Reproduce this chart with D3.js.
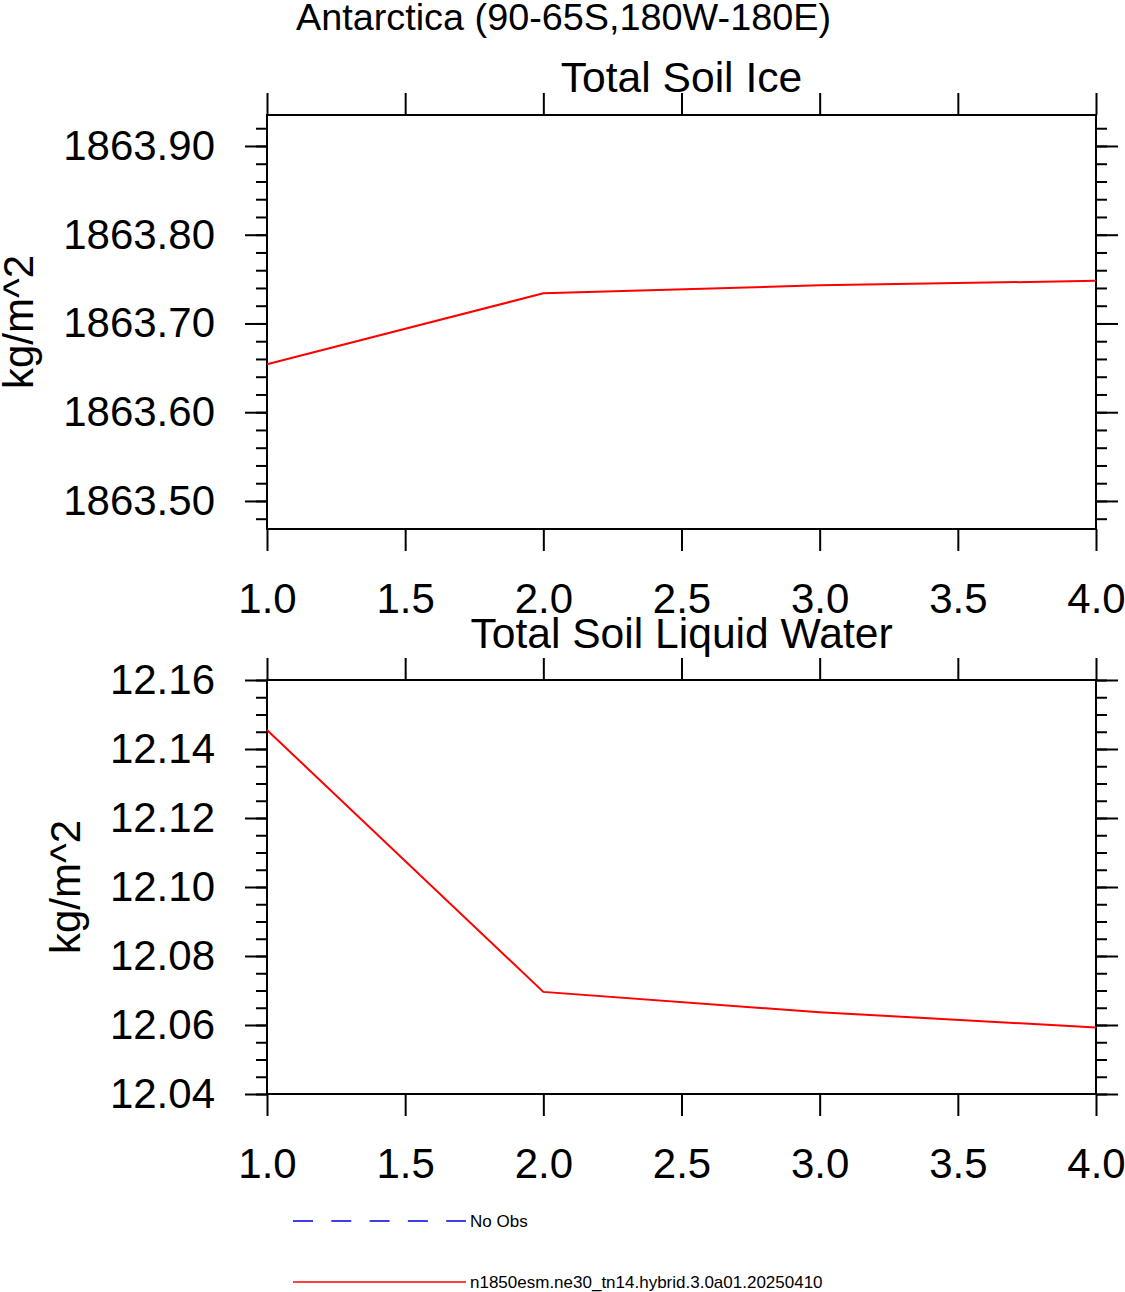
<!DOCTYPE html>
<html>
<head>
<meta charset="utf-8">
<script src="https://cdn.jsdelivr.net/npm/d3@7"></script>
<style>
  body { margin: 0; background: #fff; }
  text { font-family: "Liberation Sans", Arial, Helvetica, sans-serif; fill: #000; }
</style>
</head>
<body>
<div id="graph"></div>
<script>
// values
var years = [1, 2, 3, 4];
var soilIce = [1863.654, 1863.734, 1863.743, 1863.748];
var soilLiq = [12.1455, 12.0696, 12.0637, 12.0593];

var xTicks = [1.0, 1.5, 2.0, 2.5, 3.0, 3.5, 4.0];
var iceTicks = [1863.5, 1863.6, 1863.7, 1863.8, 1863.9];
var liqTicks = [12.04, 12.06, 12.08, 12.10, 12.12, 12.14, 12.16];

var legendLabels = ["No Obs", "n1850esm.ne30_tn14.hybrid.3.0a01.20250410"];
var legendColors = ["#0000e0", "red"];

var width = 1125, height = 1292;
var left = 267, right = 1096;

var svg = d3.select("#graph")
    .append("svg")
    .attr("width", width)
    .attr("height", height);

svg.append("text")
    .attr("x", 563.5)
    .attr("y", 30)
    .attr("text-anchor", "middle")
    .attr("font-size", 37.8)
    .text("Antarctica (90-65S,180W-180E)");

function range(a, b, step) {
    var out = [];
    var n = Math.round((b - a) / step);
    for (var i = 0; i <= n; i++) out.push(+(a + i * step).toFixed(6));
    return out;
}

function drawPanel(opts) {
    var x = d3.scaleLinear().domain([1, 4]).range([left, right]);
    var y = d3.scaleLinear().domain(opts.domain).range([opts.bottom, opts.top]);
    var g = svg.append("g");

    var minor = range(opts.minorStart, opts.minorEnd, opts.minorStep)
        .filter(function(v) { return v >= opts.domain[0] && v <= opts.domain[1]; });

    function styleAxis(sel) {
        sel.select(".domain").remove();
        sel.selectAll("line").attr("stroke", "#000").attr("stroke-width", 2);
        sel.selectAll("text").attr("font-size", 42)
            .attr("font-family", "'Liberation Sans', Arial, sans-serif");
    }

    // bottom axis with labels
    g.append("g")
        .attr("transform", "translate(0," + opts.bottom + ")")
        .call(d3.axisBottom(x).tickValues(xTicks).tickSize(22).tickSizeOuter(0)
            .tickPadding(32).tickFormat(d3.format(".1f")))
        .call(styleAxis);

    // top axis, ticks only
    g.append("g")
        .attr("transform", "translate(0," + opts.top + ")")
        .call(d3.axisTop(x).tickValues(xTicks).tickSize(22).tickSizeOuter(0).tickFormat(""))
        .call(styleAxis);

    // left axis
    g.append("g")
        .attr("transform", "translate(" + left + ",0)")
        .call(d3.axisLeft(y).tickValues(minor).tickSize(11).tickSizeOuter(0).tickFormat(""))
        .call(styleAxis);
    g.append("g")
        .attr("transform", "translate(" + left + ",0)")
        .call(d3.axisLeft(y).tickValues(opts.ticks).tickSize(22).tickSizeOuter(0)
            .tickPadding(30).tickFormat(d3.format(".2f")))
        .call(styleAxis);

    // right axis
    g.append("g")
        .attr("transform", "translate(" + right + ",0)")
        .call(d3.axisRight(y).tickValues(minor).tickSize(11).tickSizeOuter(0).tickFormat(""))
        .call(styleAxis);
    g.append("g")
        .attr("transform", "translate(" + right + ",0)")
        .call(d3.axisRight(y).tickValues(opts.ticks).tickSize(22).tickSizeOuter(0).tickFormat(""))
        .call(styleAxis);

    // frame
    g.append("rect")
        .attr("x", left)
        .attr("y", opts.top)
        .attr("width", right - left)
        .attr("height", opts.bottom - opts.top)
        .attr("fill", "none")
        .attr("stroke", "#000")
        .attr("stroke-width", 2);

    var line = d3.line()
        .x(function(d, i) { return x(years[i]); })
        .y(function(d) { return y(d); });

    g.append("path")
        .datum(opts.values)
        .attr("d", line)
        .attr("fill", "none")
        .attr("stroke", "red")
        .attr("stroke-width", 2);

    g.append("text")
        .attr("x", (left + right) / 2)
        .attr("y", opts.titleY)
        .attr("text-anchor", "middle")
        .attr("font-size", 42.6)
        .text(opts.title);

    g.append("text")
        .attr("transform", "translate(" + opts.unitX + "," + (opts.top + opts.bottom) / 2 + ") rotate(-90)")
        .attr("text-anchor", "middle")
        .attr("font-size", 42)
        .text("kg/m^2");
}

drawPanel({
    top: 115, bottom: 529,
    domain: [1863.4684, 1863.9349],
    ticks: iceTicks,
    minorStart: 1863.46, minorEnd: 1863.94, minorStep: 0.02,
    values: soilIce,
    title: "Total Soil Ice", titleY: 92,
    unitX: 33
});

drawPanel({
    top: 680, bottom: 1094,
    domain: [12.04, 12.16],
    ticks: liqTicks,
    minorStart: 12.04, minorEnd: 12.16, minorStep: 0.005,
    values: soilLiq,
    title: "Total Soil Liquid Water", titleY: 648,
    unitX: 80
});

// legend
var legend = svg.append("g");
var legY = [1221, 1282];
legendLabels.forEach(function(lab, i) {
    legend.append("line")
        .attr("x1", 293).attr("x2", 466)
        .attr("y1", legY[i]).attr("y2", legY[i])
        .attr("stroke", legendColors[i])
        .attr("stroke-width", 1.5)
        .attr("stroke-dasharray", i === 0 ? "20,18.3" : null);
    legend.append("text")
        .attr("x", 470)
        .attr("y", legY[i] + 6)
        .attr("font-size", 17)
        .text(lab);
});
</script>
</body>
</html>
